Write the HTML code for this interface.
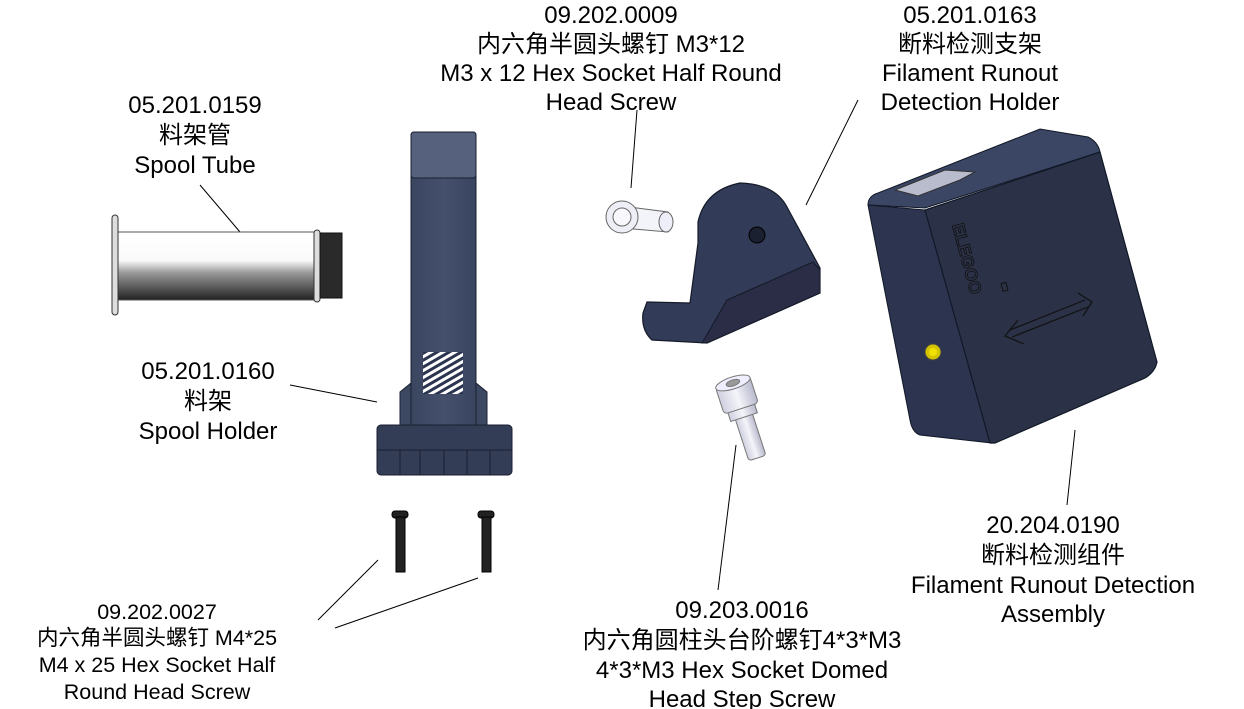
<!DOCTYPE html>
<html><head><meta charset="utf-8"><style>
html,body{margin:0;padding:0;background:#fff;width:1244px;height:709px;overflow:hidden}
svg{display:block}
text{font-family:"Liberation Sans","Noto Sans CJK SC",sans-serif;fill:#000;text-anchor:middle}
</style></head><body>
<svg width="1244" height="709" viewBox="0 0 1244 709" xmlns="http://www.w3.org/2000/svg">
<defs>
<linearGradient id="tube" x1="0" y1="0" x2="0" y2="1">
<stop offset="0" stop-color="#fff"/><stop offset="0.42" stop-color="#fafafa"/><stop offset="0.6" stop-color="#999"/><stop offset="1" stop-color="#222"/></linearGradient>
<linearGradient id="hold" x1="0" y1="0" x2="1" y2="0">
<stop offset="0" stop-color="#3a4560"/><stop offset="0.5" stop-color="#45506d"/><stop offset="1" stop-color="#3a4560"/></linearGradient>
<linearGradient id="steel" x1="0" y1="0" x2="1" y2="0">
<stop offset="0" stop-color="#cfd0e0"/><stop offset="0.5" stop-color="#f4f4fa"/><stop offset="1" stop-color="#b8b9cc"/></linearGradient>
<pattern id="hatch" width="6" height="6" patternUnits="userSpaceOnUse" patternTransform="rotate(-30)">
<rect width="6" height="6" fill="#fff"/><rect width="6" height="3" fill="#2c3550"/></pattern>
</defs>

<g stroke="#000" stroke-width="1" fill="none">
<line x1="200" y1="185" x2="240" y2="232"/>
<line x1="290" y1="385" x2="377" y2="402"/>
<line x1="318" y1="620" x2="378" y2="560"/>
<line x1="335" y1="628" x2="478" y2="578"/>
<line x1="637" y1="110" x2="631" y2="188"/>
<line x1="858" y1="100" x2="806" y2="205"/>
<line x1="736" y1="445" x2="718" y2="590"/>
<line x1="1075" y1="430" x2="1067" y2="505"/>
</g>

<!-- spool tube -->
<rect x="117" y="232" width="198" height="68" fill="url(#tube)" stroke="#555" stroke-width="1"/>
<rect x="112" y="215" width="6" height="100" rx="3" fill="#ddd" stroke="#333"/>
<rect x="314" y="230" width="6" height="72" rx="3" fill="#ddd" stroke="#333"/>
<rect x="320" y="233" width="22" height="65" fill="#2a2a2a" stroke="#111"/>

<!-- spool holder -->
<path d="M400 392 L411 383 L476 383 L487 392 L487 425 L400 425 Z" fill="#3c4762" stroke="#1b2030"/>
<rect x="411" y="132" width="65" height="298" rx="3" fill="url(#hold)" stroke="#1b2030"/>
<rect x="411" y="132" width="65" height="46" rx="3" fill="#56617e" stroke="#1b2030"/>
<rect x="423" y="352" width="40" height="42" fill="url(#hatch)"/>
<rect x="377" y="425" width="135" height="50" rx="4" fill="#333d56" stroke="#1b2030"/>
<line x1="377" y1="450" x2="512" y2="450" stroke="#1b2030"/>
<g stroke="#1b2030"><line x1="400" y1="450" x2="400" y2="475"/><line x1="420" y1="450" x2="420" y2="475"/><line x1="444" y1="450" x2="444" y2="475"/><line x1="467" y1="450" x2="467" y2="475"/><line x1="490" y1="450" x2="490" y2="475"/></g>

<!-- M4 screws -->
<g fill="#222" stroke="#000">
<rect x="392" y="511" width="16" height="7" rx="3"/><rect x="396" y="517" width="9" height="55"/>
<rect x="478" y="511" width="16" height="7" rx="3"/><rect x="482" y="517" width="9" height="55"/>
</g>

<!-- pin M3 -->
<g stroke="#666" stroke-width="1">
<path d="M622 206 L668 212 L668 232 L622 228 Z" fill="#f3f3fa"/>
<circle cx="622" cy="217" r="16" fill="#eeeef6"/>
<circle cx="622" cy="217" r="9" fill="#f8f8fc"/>
<ellipse cx="666" cy="222" rx="7" ry="10" fill="#eeeef8"/>
</g>

<!-- bracket -->
<path d="M647 302 L690 303 L698 243 L698 222 Q705 190 740 183 Q775 184 787 207 L820 268 L820 293 L707 343 L652 340 Q641 330 643 313 Z" fill="#323c58" stroke="#151a28" stroke-width="1.2"/>
<path d="M727 300 L813 262 L820 270 L820 293 L707 343 L702 343 Z" fill="#2a2d45" stroke="#151a28"/>
<circle cx="757" cy="235" r="8" fill="#1a2030" stroke="#000"/>

<!-- hex step screw -->
<g transform="rotate(-18 745 420)" stroke="#777">
<rect x="736" y="412" width="18" height="48" rx="3" fill="url(#steel)"/>
<rect x="731" y="405" width="28" height="12" fill="url(#steel)"/>
<rect x="727" y="380" width="36" height="28" rx="4" fill="url(#steel)"/>
<ellipse cx="745" cy="381" rx="18" ry="6" fill="#eef" />
<ellipse cx="745" cy="381" rx="7" ry="3" fill="#999"/>
</g>

<!-- detection assembly box -->
<path d="M868 205 Q868 196 878 193 L1040 129 L1088 137 Q1098 142 1100 152 L925 208 Z" fill="#3b4664" stroke="#111826"/>
<path d="M895 190 L945 170 L975 172 L960 180 L918 196 Z" fill="#b8bccc" stroke="#333"/>
<path d="M868 205 L925 210 L992 443 L920 435 Q912 432 910 420 Z" fill="#2c3450" stroke="#111826"/>
<path d="M925 210 L1100 152 L1157 362 Q1155 372 1145 378 L995 443 L990 443 Z" fill="#2b3147" stroke="#111826" stroke-width="1.2"/>
<circle cx="933" cy="352" r="8" fill="#d4c400" stroke="#444"/>
<circle cx="933" cy="352" r="4" fill="#f0e000"/>
<text x="0" y="0" transform="translate(952 225) rotate(75)" style="font-size:17px;font-weight:bold;fill:none;stroke:#111;stroke-width:0.8;text-anchor:start">ELEGOO</text>
<rect x="1002" y="283" width="5" height="8" fill="none" stroke="#111" transform="rotate(-15 1004 287)"/>
<g stroke="#111" fill="none" stroke-width="1.2">
<path d="M1010 330 L1085 300"/><path d="M1012 337 L1088 307"/>
<path d="M1018 320 L1005 336 L1024 344"/><path d="M1078 293 L1092 302 L1083 316"/>
</g>

<!-- labels -->
<g style="font-size:24px">
<text x="195" y="113">05.201.0159</text>
<text x="195" y="143">料架管</text>
<text x="195" y="173">Spool Tube</text>
<text x="208" y="379">05.201.0160</text>
<text x="208" y="409">料架</text>
<text x="208" y="439">Spool Holder</text>
<text x="611" y="23">09.202.0009</text>
<text x="611" y="52">内六角半圆头螺钉 M3*12</text>
<text x="611" y="81">M3 x 12 Hex Socket Half Round</text>
<text x="611" y="110">Head Screw</text>
<text x="970" y="23">05.201.0163</text>
<text x="970" y="52">断料检测支架</text>
<text x="970" y="81">Filament Runout</text>
<text x="970" y="110">Detection Holder</text>
<text x="1053" y="533">20.204.0190</text>
<text x="1053" y="563">断料检测组件</text>
<text x="1053" y="593">Filament Runout Detection</text>
<text x="1053" y="622">Assembly</text>
<text x="742" y="618">09.203.0016</text>
<text x="742" y="648">内六角圆柱头台阶螺钉4*3*M3</text>
<text x="742" y="678">4*3*M3 Hex Socket Domed</text>
<text x="742" y="707">Head Step Screw</text>
</g>
<g style="font-size:21.5px">
<text x="157" y="619">09.202.0027</text>
<text x="157" y="645">内六角半圆头螺钉 M4*25</text>
<text x="157" y="672">M4 x 25 Hex Socket Half</text>
<text x="157" y="699">Round Head Screw</text>
</g>
</svg>
</body></html>
